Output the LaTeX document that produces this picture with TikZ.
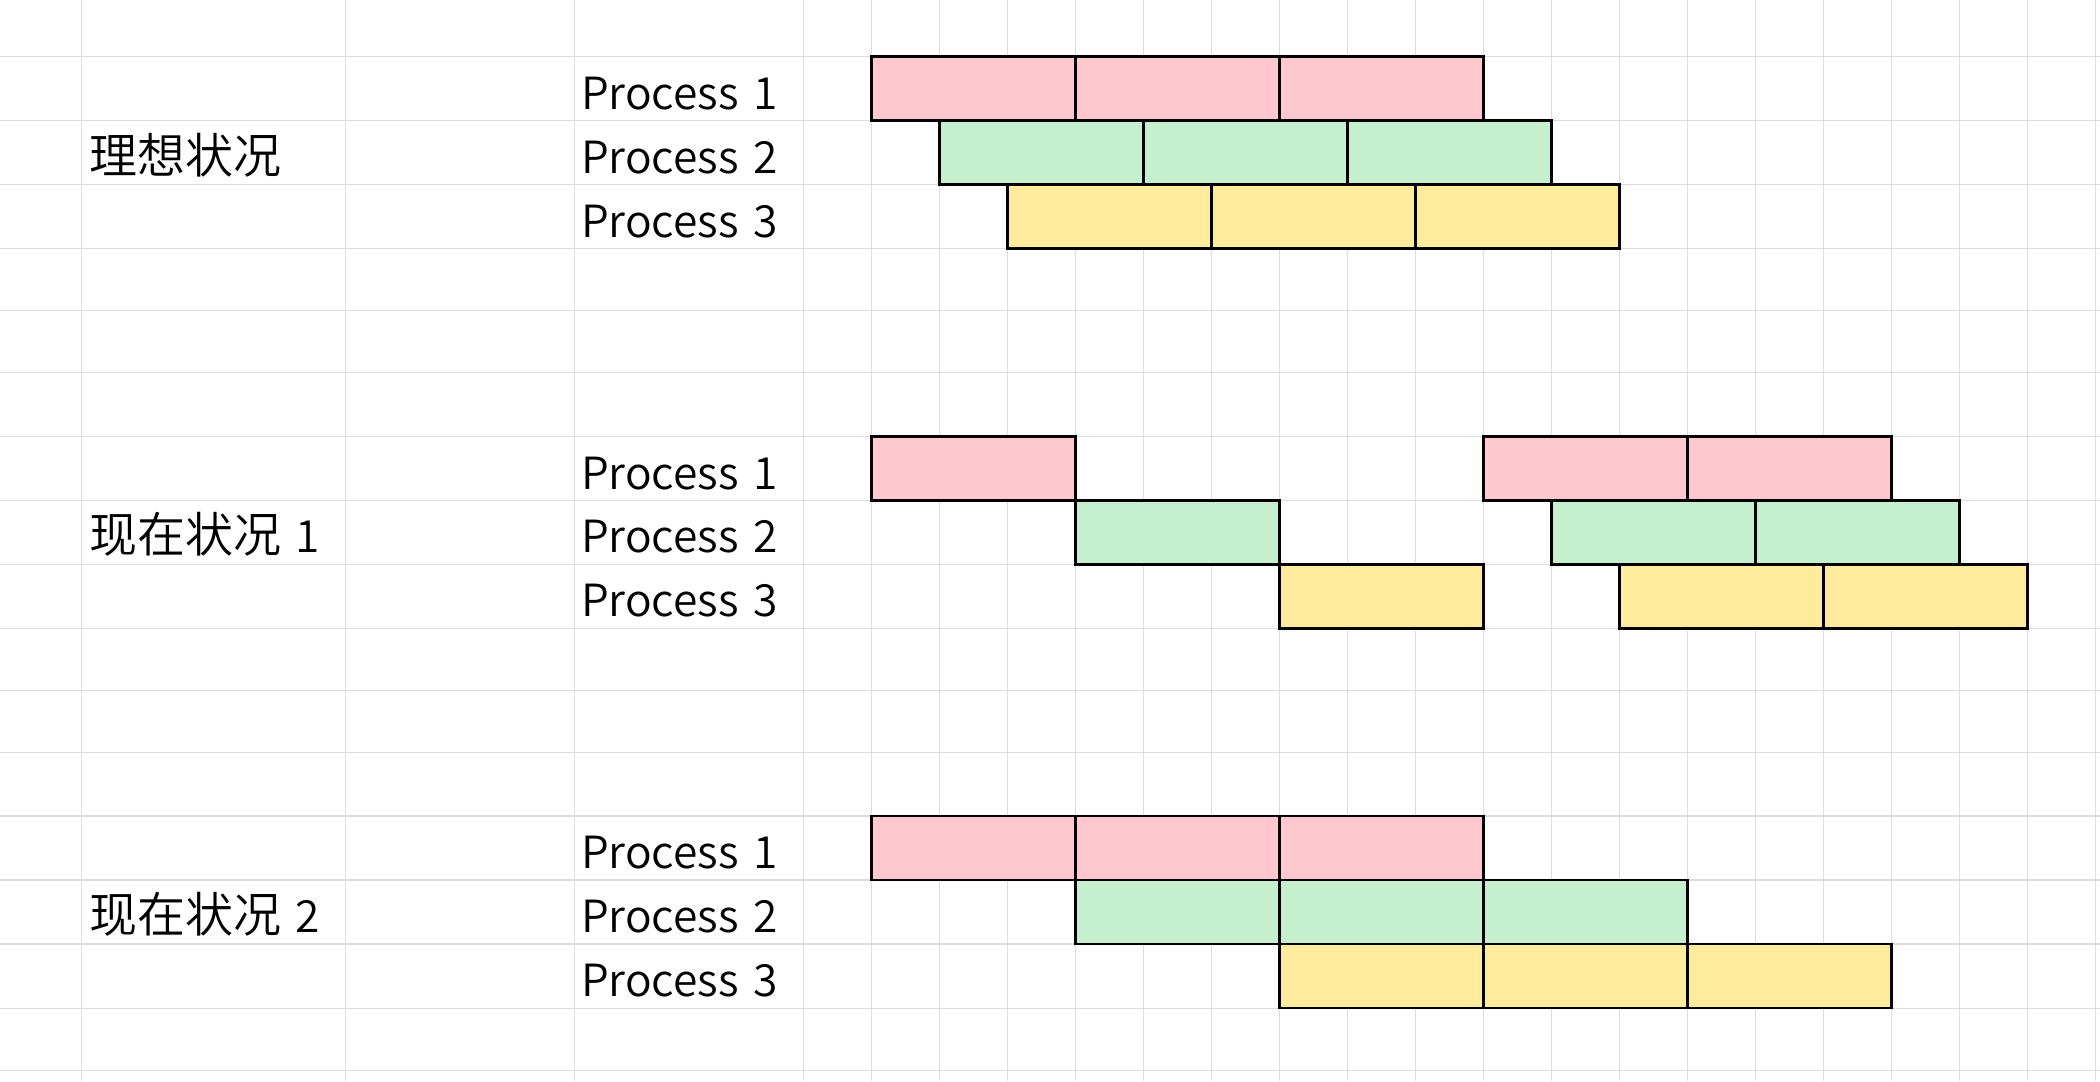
\documentclass[tikz,border=0pt]{standalone}
\usepackage{fontspec}
\newfontfamily\cjk{Noto Sans CJK SC}[UprightFont={* DemiLight}, WordSpace=1.5]
\definecolor{pk}{HTML}{FFC7CE}
\definecolor{gn}{HTML}{C6EFCE}
\definecolor{yl}{HTML}{FFEB9C}
\definecolor{gridc}{HTML}{DCDCDC}
\newcommand\cellat[4]{\node[cellbox, fill=#2] (#1) at ({803.6+68*#3},#4) {};}
\begin{document}
\begin{tikzpicture}[x=1pt,y=-1pt,
  cellbox/.style={draw=black, line width=2.4pt, minimum width=204pt, minimum height=64pt, inner sep=0pt, outer sep=0pt, anchor=north west},
  gridline/.style={draw=gridc, line width=1.5pt},
  proc/.style={anchor=base west, inner sep=0pt, font=\cjk\fontsize{44.3}{50}\selectfont},
  grp/.style={anchor=base west, inner sep=0pt, font=\cjk\fontsize{48}{54}\selectfont}]
\useasboundingbox[fill=white] (0,0) rectangle (2100,1081);
% grid
\foreach \x in {81.3,345.7,574.6}
  \draw[gridline] (\x,0) -- (\x,1081);
\foreach \k in {0,...,19}
  \draw[gridline] ({803.6+68*\k},0) -- ({803.6+68*\k},1081);
\foreach \y in {56.5,120.3,184.3,248.3,310.3,372.3,436.3,500.3,564.3,628.3,690.3,752.3,816,880,944,1008.3,1070.5}
  \draw[gridline] (0,\y) -- (2100,\y);
% ideal
\cellat{ia1}{pk}{1}{56.5}
\cellat{ia2}{pk}{4}{56.5}
\cellat{ia3}{pk}{7}{56.5}
\cellat{ib1}{gn}{2}{120.3}
\cellat{ib2}{gn}{5}{120.3}
\cellat{ib3}{gn}{8}{120.3}
\cellat{ic1}{yl}{3}{184.3}
\cellat{ic2}{yl}{6}{184.3}
\cellat{ic3}{yl}{9}{184.3}
% situation 1
\cellat{sa1}{pk}{1}{436.3}
\cellat{sa2}{pk}{10}{436.3}
\cellat{sa3}{pk}{13}{436.3}
\cellat{sb1}{gn}{4}{500.3}
\cellat{sb2}{gn}{11}{500.3}
\cellat{sb3}{gn}{14}{500.3}
\cellat{sc1}{yl}{7}{564.3}
\cellat{sc2}{yl}{12}{564.3}
\cellat{sc3}{yl}{15}{564.3}
% situation 2
\cellat{ta1}{pk}{1}{816}
\cellat{ta2}{pk}{4}{816}
\cellat{ta3}{pk}{7}{816}
\cellat{tb1}{gn}{4}{880}
\cellat{tb2}{gn}{7}{880}
\cellat{tb3}{gn}{10}{880}
\cellat{tc1}{yl}{7}{944}
\cellat{tc2}{yl}{10}{944}
\cellat{tc3}{yl}{13}{944}
% labels
\node[grp] (g1) at (89,173) {理想状况};
\node[grp] (g2) at (89,552.7) {现在状况\fontsize{44.3}{50}\selectfont\hspace{14pt}1};
\node[grp] (g3) at (89,932.3) {现在状况\fontsize{44.3}{50}\selectfont\hspace{14pt}2};
\node[proc] (p11) at (581,109) {Process 1};
\node[proc] (p12) at (581,173) {Process 2};
\node[proc] (p13) at (581,237) {Process 3};
\node[proc] (p21) at (581,489) {Process 1};
\node[proc] (p22) at (581,552.7) {Process 2};
\node[proc] (p23) at (581,616) {Process 3};
\node[proc] (p31) at (581,868.3) {Process 1};
\node[proc] (p32) at (581,932.3) {Process 2};
\node[proc] (p33) at (581,996) {Process 3};
\end{tikzpicture}
\end{document}
